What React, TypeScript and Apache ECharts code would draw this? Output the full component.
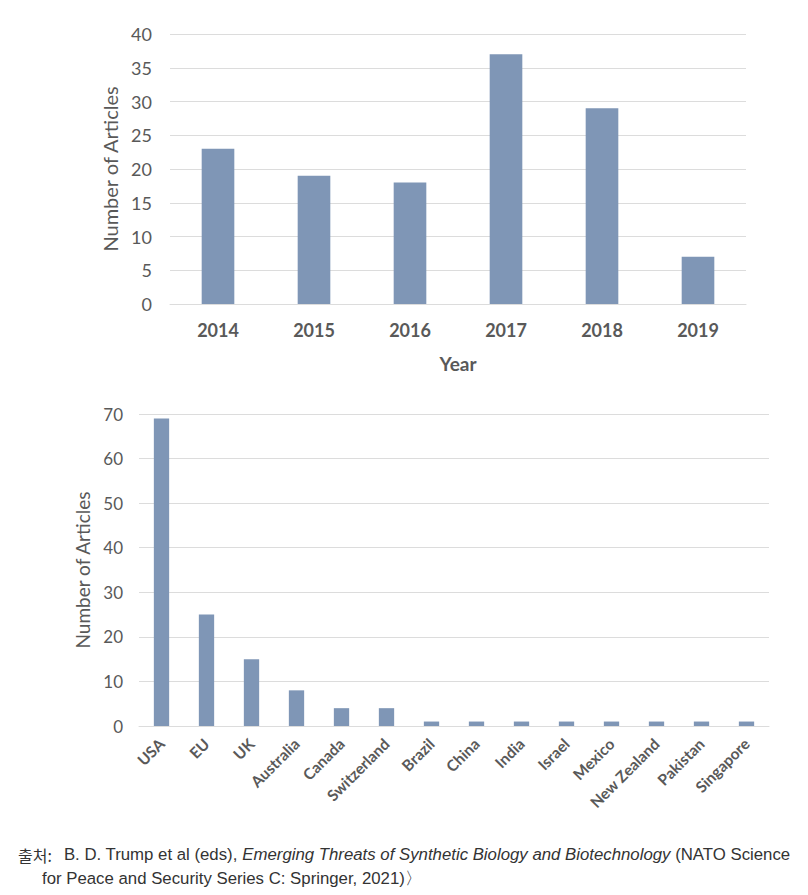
import React, { useEffect, useRef } from "react";
import * as echarts from "echarts";

const years = ["2014", "2015", "2016", "2017", "2018", "2019"];
const yearCounts = [23, 19, 18, 37, 29, 7];
const yearTicks = { min: 0, max: 40, interval: 5 };

const countries = [
  "USA", "EU", "UK", "Australia", "Canada", "Switzerland", "Brazil",
  "China", "India", "Israel", "Mexico", "New Zealand", "Pakistan", "Singapore",
];
const countryCounts = [69, 25, 15, 8, 4, 4, 1, 1, 1, 1, 1, 1, 1, 1];
const countryTicks = { min: 0, max: 70, interval: 10 };

const sourceLabel = "출처:";
const sourcePart1 = "B. D. Trump et al (eds), ";
const sourceTitle = "Emerging Threats of Synthetic Biology and Biotechnology";
const sourcePart2 = " (NATO Science";
const sourceLine2 = "for Peace and Security Series C: Springer, 2021)〉";

const TEXT = "#595959";
const BAR = "#7f96b6";
const GRID = "#dcdcdc";
const FONT = "Lato, 'Open Sans', sans-serif";
const CAP = "'Liberation Sans', sans-serif";

export default function App() {
  const ref = useRef<HTMLDivElement>(null);
  useEffect(() => {
    if (!ref.current) return;
    const chart = echarts.init(ref.current, undefined, { renderer: "svg" });
    chart.setOption({
      animation: false,
      backgroundColor: "#ffffff",
      textStyle: { fontFamily: FONT },
      grid: [
        { left: 170, right: 62, top: 34, height: 270 },
        { left: 139, right: 39, top: 414, height: 312 },
      ],
      xAxis: [
        {
          type: "category",
          gridIndex: 0,
          data: years,
          axisLine: { show: true, lineStyle: { color: GRID, width: 1 } },
          axisTick: { show: false },
          axisLabel: { color: TEXT, fontSize: 18, fontWeight: "bold", margin: 17, fontFamily: FONT },
          name: "Year",
          nameLocation: "middle",
          nameGap: 50,
          nameTextStyle: { color: TEXT, fontSize: 19, fontWeight: "bold", fontFamily: FONT },
        },
        {
          type: "category",
          gridIndex: 1,
          data: countries,
          axisLine: { show: true, lineStyle: { color: GRID, width: 1 } },
          axisTick: { show: false },
          axisLabel: {
            color: TEXT, fontSize: 15.5, fontWeight: "bold", rotate: 45, margin: 15,
            interval: 0, fontFamily: FONT,
          },
        },
      ],
      yAxis: [
        {
          type: "value",
          gridIndex: 0,
          min: yearTicks.min,
          max: yearTicks.max,
          interval: yearTicks.interval,
          axisLine: { show: false },
          axisTick: { show: false },
          splitLine: { lineStyle: { color: GRID, width: 1 } },
          axisLabel: { color: TEXT, fontSize: 18, margin: 18, fontFamily: FONT },
          name: "Number of Articles",
          nameLocation: "middle",
          nameGap: 45,
          nameTextStyle: { color: TEXT, fontSize: 20, fontFamily: FONT },
        },
        {
          type: "value",
          gridIndex: 1,
          min: countryTicks.min,
          max: countryTicks.max,
          interval: countryTicks.interval,
          axisLine: { show: false },
          axisTick: { show: false },
          splitLine: { lineStyle: { color: GRID, width: 1 } },
          axisLabel: { color: TEXT, fontSize: 17, margin: 16, fontFamily: FONT },
          name: "Number of Articles",
          nameLocation: "middle",
          nameGap: 42,
          nameTextStyle: { color: TEXT, fontSize: 19, fontFamily: FONT },
        },
      ],
      series: [
        {
          type: "bar",
          xAxisIndex: 0,
          yAxisIndex: 0,
          data: yearCounts,
          barWidth: "34%",
          itemStyle: { color: BAR },
        },
        {
          type: "bar",
          xAxisIndex: 1,
          yAxisIndex: 1,
          data: countryCounts,
          barWidth: "34%",
          itemStyle: { color: BAR },
        },
      ],
      graphic: [
        {
          type: "text",
          left: 18,
          top: 846,
          style: {
            text: `{a|${sourceLabel}}{b|${sourcePart1}}{i|${sourceTitle}}{b|${sourcePart2}}`,
            rich: {
              a: { fontFamily: "'Noto Sans CJK KR'", fontSize: 16, fill: "#333", padding: [0, 12, 0, 0] },
              b: { fontFamily: CAP, fontSize: 16.8, fill: "#333" },
              i: { fontFamily: CAP, fontSize: 16.8, fontStyle: "italic", fill: "#333" },
            },
          },
        },
        {
          type: "text",
          left: 42,
          top: 870,
          style: {
            text: sourceLine2,
            fontFamily: CAP,
            fontSize: 16.8,
            fill: "#333",
          },
        },
      ],
    });
    return () => chart.dispose();
  }, []);
  return (
    <div
      ref={ref}
      style={{ position: "fixed", left: 0, top: 0, width: 808, height: 895 }}
    />
  );
}
